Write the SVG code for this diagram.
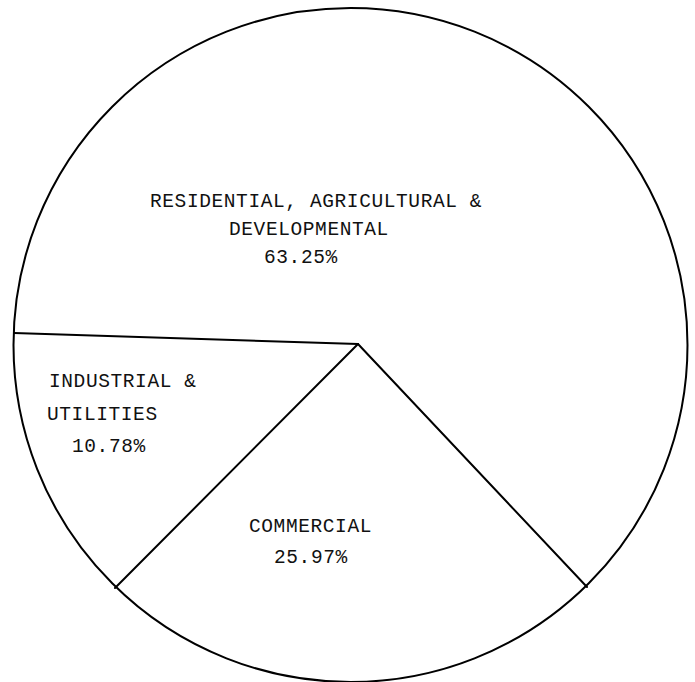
<svg xmlns="http://www.w3.org/2000/svg" width="695" height="682" viewBox="0 0 695 682">
<style>
  .edge { fill: none; stroke: #000; stroke-width: 2; stroke-linecap: round; }
  .lbl { font-family: "Liberation Mono", "DejaVu Sans Mono", monospace; font-size: 19.5px; letter-spacing: 0.6px; fill: #111; }
</style>
<rect width="695" height="682" fill="#fff"/>
<g id="pie">
  <circle cx="350.5" cy="345" r="337" class="edge"/>
</g>
<g id="connectors">
  <line x1="14" y1="333" x2="358" y2="344" class="edge"/>
  <line x1="358" y1="344" x2="115" y2="588" class="edge"/>
  <line x1="358" y1="344" x2="587" y2="587" class="edge"/>
</g>
<g id="residential">
  <text class="lbl" x="150" y="207">RESIDENTIAL, AGRICULTURAL &amp;</text>
  <text class="lbl" x="229" y="235">DEVELOPMENTAL</text>
  <text class="lbl" x="264" y="263">63.25%</text>
</g>
<g id="industrial">
  <text class="lbl" x="49" y="387">INDUSTRIAL &amp;</text>
  <text class="lbl" x="47" y="420">UTILITIES</text>
  <text class="lbl" x="72" y="452">10.78%</text>
</g>
<g id="commercial">
  <text class="lbl" x="249" y="532">COMMERCIAL</text>
  <text class="lbl" x="274" y="563">25.97%</text>
</g>
</svg>
